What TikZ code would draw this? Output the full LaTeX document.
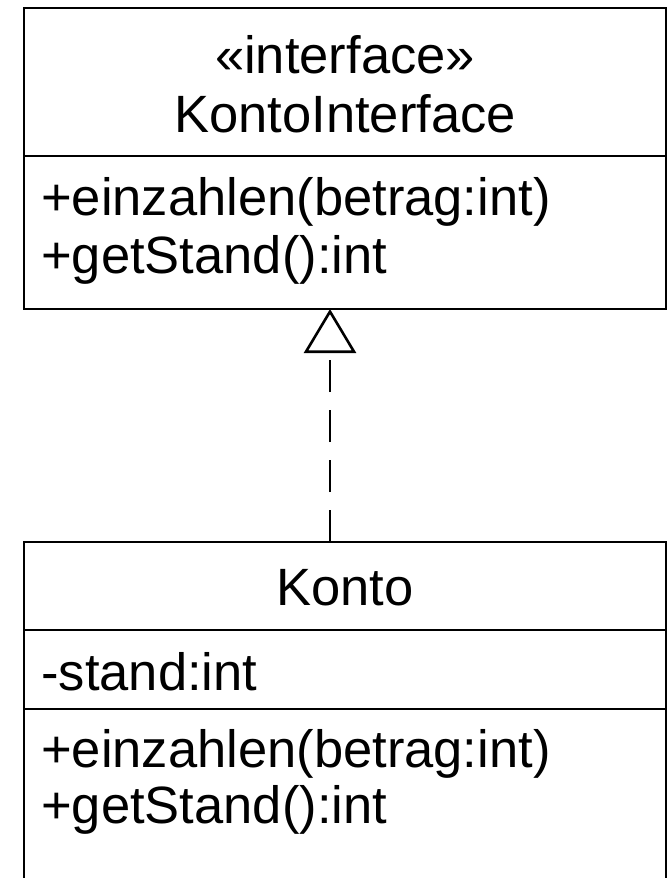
\documentclass[tikz,border=0pt]{standalone}
\usepackage{fontspec}
\setmainfont{Liberation Sans}
\usetikzlibrary{arrows.meta,positioning}

\begin{document}
\begin{tikzpicture}[x=1pt,y=-1pt,line width=2.6pt,
    classbox/.style={draw,rectangle,outer sep=0pt,inner sep=0pt,minimum width=642pt},
    umltext/.style={inner sep=0pt,font=\fontsize{52.5}{57}\selectfont},
    realizes/.style={dash pattern=on 32pt off 18pt,
      -{Triangle[open,length=44pt,width=52pt,fill=white]}}]
  \useasboundingbox (0,0) rectangle (669,878);
  \clip (0,0) rectangle (669,878);
  % classes
  \node[classbox,minimum height=301pt] (iface) at (345,158.5) {};
  \node[classbox,minimum height=360pt] (konto) at (345,722) {};
  % compartments
  \draw (iface.west |- 0,156) -- (iface.east |- 0,156);
  \draw (konto.west |- 0,630) -- (konto.east |- 0,630);
  \draw (konto.west |- 0,709) -- (konto.east |- 0,709);
  % texts
  \node[umltext,anchor=base] (stereo) at (345,73) {«interface»};
  \node[umltext,anchor=base] (ifacename) at (345,132) {KontoInterface};
  \node[umltext,anchor=base west] (ifaceop1) at (40,215) {+einzahlen(betrag:int)};
  \node[umltext,anchor=base west] (ifaceop2) at (40,273) {+getStand():int};
  \node[umltext,anchor=base] (kontoname) at (345,605) {Konto};
  \node[umltext,anchor=base west] (kontoattr) at (40,690) {-stand:int};
  \node[umltext,anchor=base west] (kontoop1) at (40,767) {+einzahlen(betrag:int)};
  \node[umltext,anchor=base west] (kontoop2) at (40,823) {+getStand():int};
  % realization
  \draw[realizes] ([xshift=-15pt]konto.north) -- ([xshift=-15pt]iface.south);
\end{tikzpicture}
\end{document}
